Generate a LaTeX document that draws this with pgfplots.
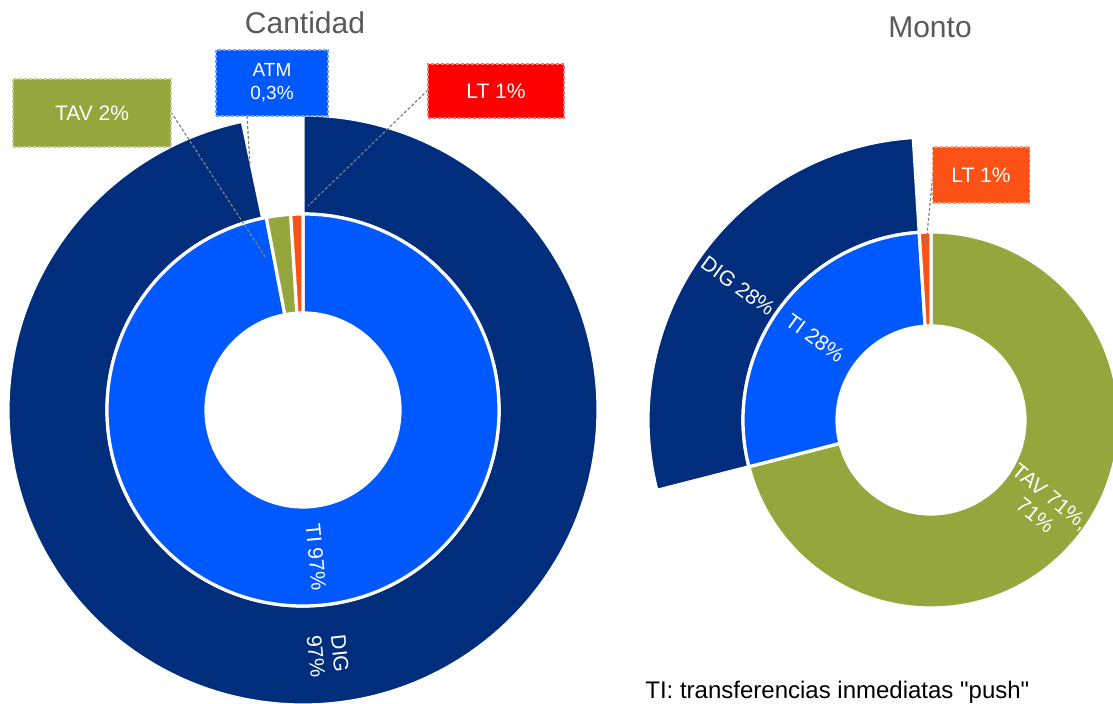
\documentclass[border=0pt]{standalone}
\usepackage{pgfplots}
\pgfplotsset{compat=1.18}
\usepackage{fontspec}
\setmainfont{Liberation Sans}[Ligatures=TeXOff]

\definecolor{dig}{RGB}{0,46,124}
\definecolor{ti}{RGB}{0,88,255}
\definecolor{tav}{RGB}{148,166,60}
\definecolor{ltred}{RGB}{255,0,0}
\definecolor{lt}{RGB}{252,82,22}
\definecolor{titlegray}{RGB}{89,89,89}

% one annular slice per point: centre (cx,cy), cumulative share c0..c1 (clockwise from 12 o'clock), radii rin..rout (axis units)
\pgfdeclareplotmark{ring}{%
  \pgfmathsetmacro\angA{90-3.6*\cA}%
  \pgfmathsetmacro\angB{90-3.6*\cB}%
  \pgfmathsetlengthmacro\Ro{0.5pt*\ro}%
  \pgfmathsetlengthmacro\Ri{0.5pt*\ri}%
  \pgfpathmoveto{\pgfpointpolar{\angA}{\Ro}}%
  \pgfpatharc{\angA}{\angB}{\Ro}%
  \pgfpathlineto{\pgfpointpolar{\angB}{\Ri}}%
  \pgfpatharc{\angB}{\angA}{\Ri}%
  \pgfpathclose
  \pgfusepathqfillstroke
}
\pgfplotsset{
  ring/.style={only marks, mark=ring,
    mark options={solid, fill=#1, draw=white, line width=1.6pt},
    visualization depends on={value \thisrow{c0}\as\cA},
    visualization depends on={value \thisrow{c1}\as\cB},
    visualization depends on={value \thisrow{rin}\as\ri},
    visualization depends on={value \thisrow{rout}\as\ro}},
}
\tikzset{
  box/.style={fill=#1, draw=#1!55!white, dash pattern=on 1.5pt off 1pt, line width=0.7pt,
    text=white, align=center, inner sep=0pt},
  lead/.style={draw=gray, dash pattern=on 1.5pt off 1pt, line width=0.6pt},
  slab/.style={text=white, align=center, font=\fontsize{10.5}{12}\selectfont}
}

\begin{document}
\begin{tikzpicture}
\begin{axis}[
  name=ax,
  scale only axis, width=556.5pt, height=352pt,
  xmin=0, xmax=1113, ymin=0, ymax=704,
  hide axis, clip marker paths=true,
]
% Cantidad - outer ring (channel)
\addplot[ring=dig] table {
cx cy c0 c1 rin rout
303 294 0 96.7 196 295
};
% Cantidad - inner ring
\addplot[ring=ti] table {
cx cy c0 c1 rin rout
303 294 0 97 97 196
};
\addplot[ring=tav] table {
cx cy c0 c1 rin rout
303 294 97 99 97 196
};
\addplot[ring=lt] table {
cx cy c0 c1 rin rout
303 294 99 100 97 196
};
% Monto - outer ring
\addplot[ring=dig] table {
cx cy c0 c1 rin rout
931 284 71 99 188 283
};
% Monto - inner ring
\addplot[ring=tav] table {
cx cy c0 c1 rin rout
931 284 0 71 94 188
};
\addplot[ring=ti] table {
cx cy c0 c1 rin rout
931 284 71 99 94 188
};
\addplot[ring=lt] table {
cx cy c0 c1 rin rout
931 284 99 100 94 188
};

% titles
\node[text=titlegray, font=\fontsize{15}{18}\selectfont] at (axis cs:305,681) {Cantidad};
\node[text=titlegray, font=\fontsize{15}{18}\selectfont] at (axis cs:930,677) {Monto};

% slice labels
\node[slab, rotate=-84.6] at (axis cs:316,147) {TI 97\%};
\node[slab, rotate=-84] at (axis cs:328,49) {DIG\\97\%};
\node[slab, rotate=-36] at (axis cs:738,418) {DIG 28\%};
\node[slab, rotate=-36] at (axis cs:815,366) {TI 28\%};
\node[slab, rotate=-39] at (axis cs:1043,198) {TAV 71\%,\\71\%};

% leader lines
\draw[lead] (axis cs:171,592) -- (axis cs:266,446);
\draw[lead] (axis cs:247,588) -- (axis cs:250,539);
\draw[lead] (axis cs:428,614) -- (axis cs:308,498);
\draw[lead] (axis cs:933,531) -- (axis cs:926,459);

% callouts
\node[box=tav, minimum width=79pt, minimum height=34pt, font=\fontsize{10.5}{12}\selectfont] at (axis cs:92,591) {TAV 2\%};
\node[box=ti, minimum width=56pt, minimum height=33pt, font=\fontsize{9.5}{11.5}\selectfont] at (axis cs:272,621) {ATM\\0,3\%};
\node[box=ltred, minimum width=68pt, minimum height=27pt, font=\fontsize{10.5}{12}\selectfont] at (axis cs:496,613) {LT 1\%};
\node[box=lt, minimum width=48.5pt, minimum height=28pt, font=\fontsize{10.5}{12}\selectfont] at (axis cs:981,529) {LT 1\%};

% note
\node[anchor=base west, font=\fontsize{12}{14}\selectfont, inner sep=0pt] at (axis cs:645,5) {TI: transferencias inmediatas "push"};
\end{axis}
\pgfresetboundingbox
\useasboundingbox (ax.south west) rectangle (ax.north east);
\end{tikzpicture}
\end{document}
